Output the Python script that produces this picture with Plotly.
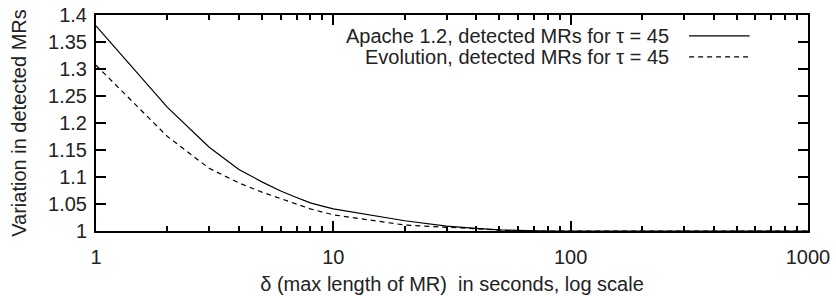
import plotly.graph_objects as go

# ---- data ----
delta_seconds = [1, 2, 3, 4, 5, 6, 7, 8, 9, 10, 20, 30, 40, 50, 60, 70, 80, 90, 100,
                 200, 300, 400, 500, 600, 700, 800, 900, 1000]
apache_variation = [1.380, 1.229, 1.155, 1.114, 1.091, 1.074, 1.062, 1.052, 1.046, 1.041,
                    1.019, 1.009, 1.005, 1.002, 1.001, 1.000, 1.000, 1.000, 1.000,
                    1.000, 1.000, 1.000, 1.000, 1.000, 1.000, 1.000, 1.000, 1.000]
evolution_variation = [1.307, 1.175, 1.116, 1.089, 1.072, 1.060, 1.050, 1.041, 1.035, 1.030,
                       1.011, 1.007, 1.003, 1.001, 1.000, 1.000, 1.000, 1.000, 1.000,
                       1.000, 1.000, 1.000, 1.000, 1.000, 1.000, 1.000, 1.000, 1.000]
series_names = ["Apache 1.2, detected MRs for \u03c4 = 45",
                "Evolution, detected MRs for \u03c4 = 45"]
y_tick_values = [1, 1.05, 1.1, 1.15, 1.2, 1.25, 1.3, 1.35, 1.4]
y_tick_labels = ["1", "1.05", "1.1", "1.15", "1.2", "1.25", "1.3", "1.35", "1.4"]
x_tick_values = [1, 10, 100, 1000]
x_tick_labels = ["1", "10", "100", "1000"]
x_minor_values = [m * d for d in (1, 10, 100) for m in range(2, 10)]

FONT = "Liberation Sans, Arial, Helvetica, sans-serif"
FS = 20
dashes = ["solid", "5px,4px"]

fig = go.Figure()
for name, vals, dash in zip(series_names, [apache_variation, evolution_variation], dashes):
    fig.add_trace(go.Scatter(x=delta_seconds, y=vals, mode="lines", name=name,
                             line=dict(color="black", width=1.2, dash=dash),
                             showlegend=False))

# legend drawn as text left of sample line (gnuplot style)
for i, (name, dash) in enumerate(zip(series_names, dashes)):
    yy = 0.903 - i * 0.097
    fig.add_annotation(xref="paper", yref="paper", x=0.807, y=yy, text=name,
                       showarrow=False, xanchor="right", yanchor="middle",
                       font=dict(family=FONT, size=FS, color="#222"))
    fig.add_shape(type="line", xref="paper", yref="paper", x0=0.833, x1=0.918,
                  y0=yy, y1=yy, line=dict(color="black", width=1.2, dash=dash))

fig.update_xaxes(type="log", range=[0, 3], tickvals=x_tick_values, ticktext=x_tick_labels,
                 showline=True, linecolor="black", linewidth=2, mirror="allticks",
                 ticks="inside", ticklen=10, tickwidth=2, tickcolor="black",
                 minor=dict(tickvals=x_minor_values, ticks="inside", ticklen=5,
                            tickwidth=2, tickcolor="black", showgrid=False),
                 showgrid=False, zeroline=False, automargin=False,
                 ticklabeloverflow="allow", ticklabelstandoff=7,
                 tickfont=dict(family=FONT, size=FS, color="#222"),
                 title=dict(text="\u03b4 (max length of MR)\u00a0 in seconds, log scale",
                            font=dict(family=FONT, size=FS, color="#222"), standoff=10))
fig.update_yaxes(range=[1, 1.4], tickvals=y_tick_values, ticktext=y_tick_labels,
                 showline=True, linecolor="black", linewidth=2, mirror="allticks",
                 ticks="inside", ticklen=10, tickwidth=2, tickcolor="black",
                 showgrid=False, zeroline=False, automargin=False,
                 ticklabeloverflow="allow", ticklabelstandoff=3,
                 tickfont=dict(family=FONT, size=FS, color="#222"),
                 title=dict(text="Variation in detected MRs",
                            font=dict(family=FONT, size=FS, color="#222"), standoff=16))

fig.update_layout(width=836, height=296, margin=dict(l=96, r=28, t=15, b=65),
                  plot_bgcolor="white", paper_bgcolor="white",
                  font=dict(family=FONT, size=FS, color="#222"))

fig.write_html("out.html", config={"displayModeBar": False},
               post_script="document.body.style.margin='0';document.body.style.overflow='hidden';")
